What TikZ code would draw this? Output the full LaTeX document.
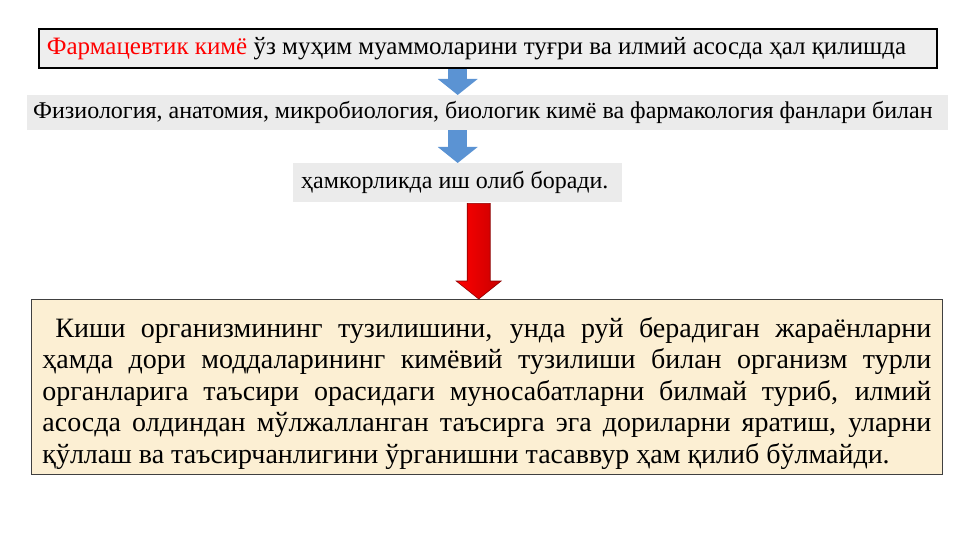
\documentclass[tikz,border=0pt]{standalone}
\usepackage{fontspec}
\setmainfont{Liberation Serif}
\usetikzlibrary{arrows.meta,calc}

\definecolor{qutigray}{HTML}{EEEEEE}
\definecolor{fangray}{HTML}{EBEBEB}
\definecolor{asosbeige}{HTML}{FCEFD3}
\definecolor{arrblue}{HTML}{5B93D3}

\def \sw {11.5}
\def \hw {22.5}
\def \hl {18}

\begin{document}
\begin{tikzpicture}[x=1pt,y=-1pt,
    quti/.style={anchor=north west, inner xsep=8pt, inner ysep=0pt,
      font=\fontsize{24}{28}\selectfont},
    bluearr/.style={draw=arrblue, line width=19pt,
      -{Triangle[width=39pt,length=16pt]}}]
      \useasboundingbox (0,0) rectangle (961,540);
      %qutilar
      \node[quti, draw=black, line width=1.6pt, fill=qutigray, font=\fontsize{25}{28}\selectfont,
        minimum height=39pt] (masala) at (38,28)
        {\makebox[882pt][l]{\textcolor{red}{Фармацевтик кимё} ўз муҳим муаммоларини туғри ва илмий асосда ҳал қилишда}};
      \node[quti, fill=fangray, inner xsep=6pt, minimum height=35pt] (fanlar) at (27,95)
        {\makebox[909pt][l]{Физиология, анатомия, микробиология, биологик кимё ва фармакология фанлари билан}};
      \node[quti, fill=fangray, minimum height=39pt] (hamkor) at (293,163)
        {\makebox[313pt][l]{ҳамкорликда иш олиб боради.}};
      \node[anchor=north west, draw=black!75, line width=0.8pt, fill=asosbeige,
        inner xsep=11pt, inner ysep=4pt, text width=889pt, align=justify,
        minimum height=175pt, font=\fontsize{28}{31.5}\selectfont] (asos) at (31,299)
        {\rule{0pt}{33pt}\hspace*{13pt}Киши организмининг тузилишини, унда руй берадиган жараёнларни\linebreak
         ҳамда дори моддаларининг кимёвий тузилиши билан организм турли\linebreak
         органларига таъсири орасидаги муносабатларни билмай туриб, илмий\linebreak
         асосда олдиндан мўлжалланган таъсирга эга дориларни яратиш, уларни\linebreak
         қўллаш ва таъсирчанлигини ўрганишни тасаввур ҳам қилиб бўлмайди.};
      %ko'k strelkalar
      \draw[bluearr] (masala.south -| hamkor.north) -- (fanlar.north -| hamkor.north);
      \draw[bluearr] (fanlar.south -| hamkor.north) -- (hamkor.north);
      %qizil strelka
      \coordinate (r1) at ($(hamkor.south)+(21,1)$);
      \coordinate (r2) at (r1 |- asos.north);
      \shade[left color=red, right color=red!78!black, draw=red!55!black, line width=0.6pt]
        ($(r1)+(-\sw,0)$) -- ($(r1)+(\sw,0)$) -- ($(r2)+(\sw,-\hl)$) -- ($(r2)+(\hw,-\hl)$)
        -- (r2) -- ($(r2)+(-\hw,-\hl)$) -- ($(r2)+(-\sw,-\hl)$) -- cycle;
    \end{tikzpicture}
\end{document}
